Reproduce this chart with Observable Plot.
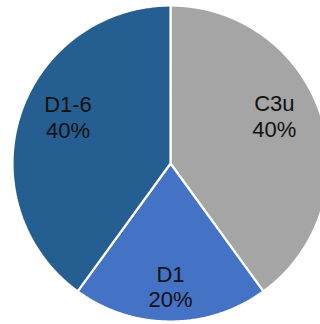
<!DOCTYPE html>
<html>
<head>
<meta charset="utf-8">
<script src="https://cdn.jsdelivr.net/npm/d3@7"></script>
<script src="https://cdn.jsdelivr.net/npm/@observablehq/plot@0.6"></script>
<style>
  html, body { margin: 0; padding: 0; background: #fff; overflow: hidden; }
  #chart svg { display: block; }
</style>
</head>
<body>
<div id="chart"></div>
<script>
// Share of each class
const categories = ["C3u", "D1", "D1-6"];
const values = [40, 20, 40];
const colors = ["#A5A5A5", "#4472C4", "#255E91"];

// Layout: pie centre and radius in pixels
const W = 320, H = 324, CX = 170, CY = 163, R = 158;
const FONT_SIZE = 22, LINE_HEIGHT = 1.16;
const FONT = "'Liberation Sans', Arial, sans-serif";

const total = d3.sum(values);
// Angles run clockwise from 12 o'clock, in data order
const arcs = d3.pie().sort(null).value(d => d.value)(
  categories.map((name, i) => ({name, value: values[i]}))
);

// Each slice as a closed polygon on a unit circle (y up)
const slicePoints = arcs.flatMap(a => {
  const steps = Math.max(2, Math.ceil((a.endAngle - a.startAngle) / (Math.PI / 360)));
  const pts = [{name: a.data.name, x: 0, y: 0}];
  for (let k = 0; k <= steps; ++k) {
    const t = a.startAngle + (a.endAngle - a.startAngle) * k / steps;
    pts.push({name: a.data.name, x: Math.sin(t), y: Math.cos(t)});
  }
  pts.push({name: a.data.name, x: 0, y: 0});
  return pts;
});

// Label placement: the label box's inner corner sits on the slice's middle
// ray, pushed outward until its outer corner reaches the fit radius.
// Lines are centred within the box.
const ctx = document.createElement("canvas").getContext("2d");
ctx.font = `${FONT_SIZE}px ${FONT}`;
const fitRadius = 0.905;
const labels = arcs.map(a => {
  const mid = (a.startAngle + a.endAngle) / 2;
  const lines = [a.data.name, `${Math.round(a.data.value / total * 100)}%`];
  const ux = Math.sin(mid), uy = Math.cos(mid);
  const w = d3.max(lines, s => ctx.measureText(s).width) / R;
  const h = ((lines.length - 1) * LINE_HEIGHT * FONT_SIZE + 0.72 * FONT_SIZE) / R;
  const centred = Math.abs(ux) < 0.2;
  const sx = centred ? 0 : Math.sign(ux);
  const vAnchor = uy > 0 ? "bottom" : "top";
  const cxOff = centred ? w / 2 : sx * w;
  const cyOff = Math.sign(uy) * h;
  const dot = ux * cxOff + uy * cyOff;
  const d = -dot + Math.sqrt(dot * dot - (cxOff * cxOff + cyOff * cyOff) + fitRadius * fitRadius);
  return {text: lines.join("\n"), x: d * ux + sx * w / 2, y: d * uy, vAnchor};
});

const anchorGroups = d3.groups(labels, d => d.vAnchor);

const chart = Plot.plot({
  width: W,
  height: H,
  margin: 0,
  x: {domain: [-CX / R, (W - CX) / R], axis: null},
  y: {domain: [-(H - CY) / R, CY / R], axis: null},
  color: {domain: categories, range: colors},
  style: {fontFamily: FONT, background: "#fff"},
  marks: [
    Plot.line(slicePoints, {
      x: "x", y: "y", z: "name",
      fill: "name",
      stroke: "#fff",
      strokeWidth: 2.2,
      strokeLinejoin: "miter",
      curve: "linear"
    }),
    ...anchorGroups.map(([vAnchor, group]) => Plot.text(group, {
      x: "x", y: "y", text: "text",
      fontSize: FONT_SIZE,
      lineHeight: LINE_HEIGHT,
      fill: "#111",
      textAnchor: "middle",
      lineAnchor: vAnchor
    }))
  ]
});
document.getElementById("chart").append(chart);
</script>
</body>
</html>
